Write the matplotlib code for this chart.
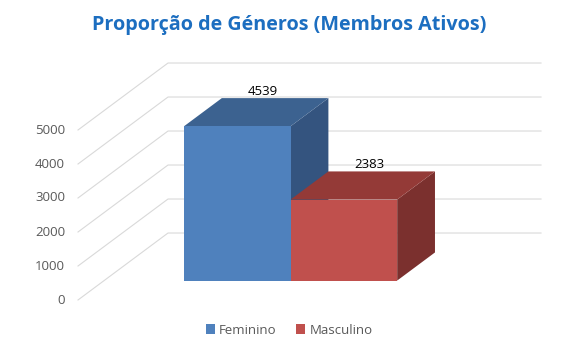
import numpy as np
import matplotlib.pyplot as plt
from matplotlib.patches import Polygon, Rectangle

# dados
generos = ["Feminino", "Masculino"]
membros = [4539, 2383]
ticks_y = [0, 1000, 2000, 3000, 4000, 5000]

cores_frente = ["#4F81BD", "#C0504D"]
cores_topo = ["#3C6290", "#943A37"]
cores_lado = ["#34547F", "#7B302E"]

# projecao obliqua: profundidade 1 -> deslocamento (DX, DY) em unidades de dados
DX = 0.2413
DY = 1970.0
W = 1 / 3.5          # largura da barra (gap de 150%)
D0, D1 = 0.29, 0.71  # profundidade das barras


def proj(x, v, d):
    return (x + d * DX, v + d * DY)


fig = plt.figure(figsize=(5.78, 3.47), dpi=100)
ax = fig.add_axes([0, 0, 1, 1])
ax.set_xlim(-78 / 373, 500 / 373)
ax.set_ylim(-47 / 0.034, 300 / 0.034)
ax.axis("off")

# grelha: parede esquerda e parede de fundo
for t in ticks_y:
    x0, y0 = proj(0, t, 0)
    x1, y1 = proj(0, t, 1)
    x2, y2 = proj(1, t, 1)
    ax.plot([x0, x1, x2], [y0, y1, y2], color="#D9D9D9", lw=0.8, zorder=1)
    ax.text(-0.035, t, str(t), ha="right", va="center", fontsize=9.5,
            color="#595959", family="Open Sans")

# barras 3D
for i, (v, nome) in enumerate(zip(membros, generos)):
    xa = 0.75 * W + i * W
    xb = xa + W
    frente = [proj(xa, 0, D0), proj(xb, 0, D0), proj(xb, v, D0), proj(xa, v, D0)]
    topo = [proj(xa, v, D0), proj(xb, v, D0), proj(xb, v, D1), proj(xa, v, D1)]
    lado = [proj(xb, 0, D0), proj(xb, 0, D1), proj(xb, v, D1), proj(xb, v, D0)]
    z = 2 + i
    ax.add_patch(Polygon(lado, closed=True, fc=cores_lado[i], ec="none", zorder=z))
    ax.add_patch(Polygon(topo, closed=True, fc=cores_topo[i], ec="none", zorder=z))
    ax.add_patch(Polygon(frente, closed=True, fc=cores_frente[i], ec="none", zorder=z))
    lx, ly = proj((xa + xb) / 2, v, 0.57)
    _, ly = proj(0, v, D1)
    ax.annotate(str(v), (lx, ly), xytext=(0, 4.8), textcoords="offset points",
                ha="center", va="center", fontsize=9.5, color="#000000",
                family="Open Sans", zorder=5)

fig.text(0.5, 1 - 25 / 347, "Proporção de Géneros (Membros Ativos)",
         ha="center", va="center", fontsize=14.2, fontweight="bold",
         color="#1C6EC0", family="Open Sans")

# legenda
handles = [Rectangle((0, 0), 1, 1, fc=c, ec="none") for c in cores_frente]
leg = fig.legend(handles, generos, loc="center", bbox_to_anchor=(0.5, 1 - 330 / 347),
                 ncol=2, frameon=False, handlelength=0.7, handleheight=0.7,
                 handletextpad=0.3, columnspacing=1.5,
                 prop={"family": "Open Sans", "size": 9.5})
for txt in leg.get_texts():
    txt.set_color("#595959")

fig.savefig("out.png", dpi=100)
